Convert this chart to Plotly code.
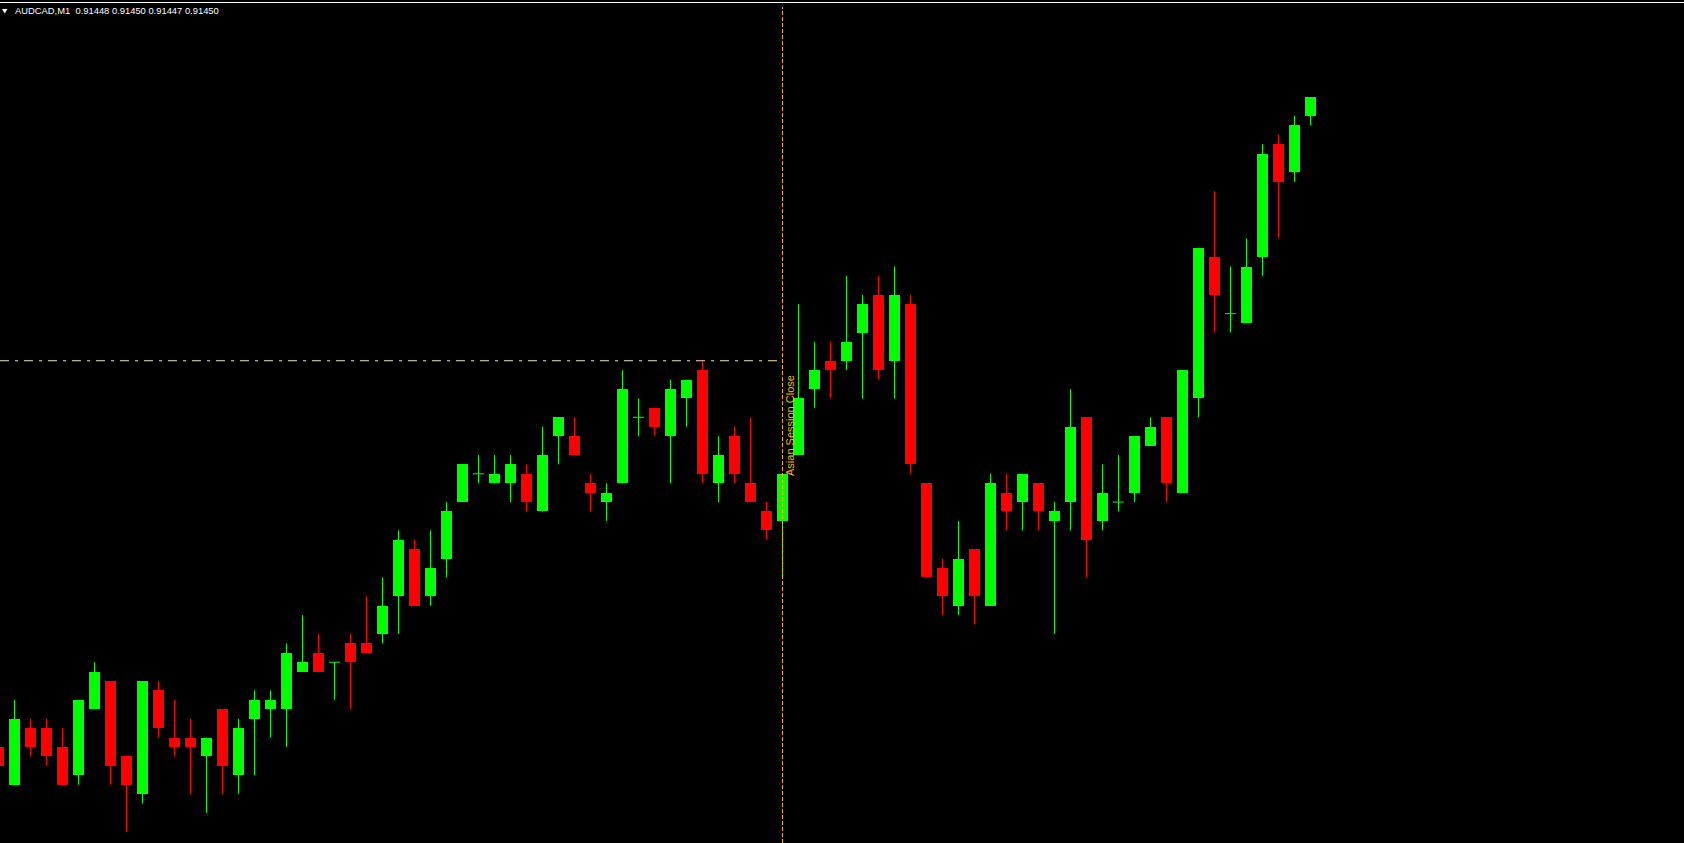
import plotly.graph_objects as go

# ---- data (AUDCAD M1, bar index -1 is the partially visible left bar) ----
bar_index = list(range(-1, 82))
open_ = [0.91381, 0.91377, 0.91383, 0.91383, 0.91381, 0.91378, 0.91385, 0.91388, 0.91380, 0.91376,
         0.91387, 0.91382, 0.91382, 0.91380, 0.91385, 0.91378, 0.91384, 0.91385, 0.91385, 0.91389,
         0.91391, 0.91390, 0.91392, 0.91392, 0.91393, 0.91397, 0.91402, 0.91397, 0.91401, 0.91407,
         0.91410, 0.91409, 0.91409, 0.91410, 0.91406, 0.91414, 0.91414, 0.91409, 0.91407, 0.91409,
         0.91416, 0.91417, 0.91414, 0.91418, 0.91421, 0.91409, 0.91414, 0.91409, 0.91406, 0.91405,
         0.91412, 0.91419, 0.91422, 0.91422, 0.91425, 0.91429, 0.91422, 0.91428, 0.91409, 0.91400,
         0.91396, 0.91402, 0.91396, 0.91408, 0.91407, 0.91409, 0.91405, 0.91407, 0.91416, 0.91405,
         0.91407, 0.91408, 0.91413, 0.91416, 0.91408, 0.91418, 0.91433, 0.91427, 0.91426, 0.91433,
         0.91445, 0.91442, 0.91448]
high = [0.91381, 0.91386, 0.91384, 0.91384, 0.91383, 0.91386, 0.91390, 0.91388, 0.91380, 0.91388,
        0.91388, 0.91386, 0.91384, 0.91382, 0.91385, 0.91384, 0.91387, 0.91387, 0.91392, 0.91395,
        0.91393, 0.91390, 0.91393, 0.91397, 0.91399, 0.91404, 0.91403, 0.91404, 0.91407, 0.91411,
        0.91412, 0.91412, 0.91412, 0.91411, 0.91415, 0.91416, 0.91416, 0.91410, 0.91409, 0.91421,
        0.91418, 0.91417, 0.91420, 0.91420, 0.91422, 0.91414, 0.91415, 0.91416, 0.91407, 0.91410,
        0.91428, 0.91424, 0.91424, 0.91431, 0.91429, 0.91431, 0.91432, 0.91429, 0.91409, 0.91401,
        0.91405, 0.91402, 0.91410, 0.91410, 0.91410, 0.91409, 0.91407, 0.91419, 0.91416, 0.91411,
        0.91412, 0.91414, 0.91416, 0.91416, 0.91421, 0.91434, 0.91440, 0.91432, 0.91435, 0.91445,
        0.91446, 0.91448, 0.91450]
low = [0.91379, 0.91377, 0.91380, 0.91379, 0.91377, 0.91377, 0.91385, 0.91377, 0.91372, 0.91375,
       0.91382, 0.91380, 0.91376, 0.91374, 0.91376, 0.91376, 0.91378, 0.91382, 0.91381, 0.91389,
       0.91389, 0.91386, 0.91385, 0.91391, 0.91392, 0.91393, 0.91396, 0.91396, 0.91399, 0.91407,
       0.91409, 0.91409, 0.91407, 0.91406, 0.91406, 0.91411, 0.91412, 0.91406, 0.91405, 0.91409,
       0.91414, 0.91414, 0.91409, 0.91415, 0.91409, 0.91407, 0.91409, 0.91407, 0.91403, 0.91399,
       0.91412, 0.91417, 0.91418, 0.91421, 0.91418, 0.91420, 0.91418, 0.91410, 0.91399, 0.91395,
       0.91395, 0.91394, 0.91396, 0.91404, 0.91404, 0.91404, 0.91393, 0.91404, 0.91399, 0.91404,
       0.91406, 0.91407, 0.91413, 0.91407, 0.91408, 0.91416, 0.91425, 0.91425, 0.91426, 0.91431,
       0.91435, 0.91441, 0.91447]
close = [0.91379, 0.91384, 0.91381, 0.91380, 0.91377, 0.91386, 0.91389, 0.91379, 0.91377, 0.91388,
         0.91383, 0.91381, 0.91381, 0.91382, 0.91379, 0.91383, 0.91386, 0.91386, 0.91391, 0.91390,
         0.91389, 0.91390, 0.91390, 0.91391, 0.91396, 0.91403, 0.91396, 0.91400, 0.91406, 0.91411,
         0.91410, 0.91410, 0.91411, 0.91407, 0.91412, 0.91416, 0.91412, 0.91408, 0.91408, 0.91419,
         0.91416, 0.91415, 0.91419, 0.91420, 0.91410, 0.91412, 0.91410, 0.91407, 0.91404, 0.91410,
         0.91418, 0.91421, 0.91421, 0.91424, 0.91428, 0.91421, 0.91429, 0.91411, 0.91399, 0.91397,
         0.91401, 0.91397, 0.91409, 0.91406, 0.91410, 0.91406, 0.91406, 0.91415, 0.91403, 0.91408,
         0.91407, 0.91414, 0.91415, 0.91409, 0.91421, 0.91434, 0.91429, 0.91427, 0.91432, 0.91444,
         0.91441, 0.91447, 0.91450]

session_close_index = 48
session_label = "Asian Session Close"
symbol = "AUDCAD,M1"

# ---- styling ----
W, H = 1684, 843
UP, DOWN = "#00FF00", "#FF0000"
BODY_W = 11 / 16
PX_PER_PIP = 9.42  # pixels per 0.00001
last_close = close[-1]
y_top = last_close + 97 / PX_PER_PIP * 1e-5
y_bot = last_close - (H - 97) / PX_PER_PIP * 1e-5
x_lo = -14.5 / 16
x_hi = (W - 14.5) / 16

colors = [UP if c >= o else DOWN for o, c in zip(open_, close)]

fig = go.Figure()

# wicks (and doji crosses)
for col in (UP, DOWN):
    xs, ys = [], []
    for k, o, h, l, c, cc in zip(bar_index, open_, high, low, close, colors):
        if cc != col:
            continue
        xs += [k, k, None]
        ys += [l, h, None]
        if abs(c - o) < 1e-9:
            xs += [k - BODY_W / 2, k + BODY_W / 2, None]
            ys += [o, o, None]
    fig.add_trace(go.Scatter(x=xs, y=ys, mode="lines", line=dict(color=col, width=1),
                             hoverinfo="skip", connectgaps=False))

# bodies
fig.add_trace(go.Bar(
    x=bar_index,
    y=[abs(c - o) for o, c in zip(open_, close)],
    base=[min(o, c) for o, c in zip(open_, close)],
    width=BODY_W,
    marker=dict(color=colors, line=dict(width=0)),
    hoverinfo="skip",
))

# Asian session high (dash-dot) up to the session close line
session_high = max(high[:bar_index.index(session_close_index)])
fig.add_trace(go.Scatter(
    x=[x_lo, session_close_index], y=[session_high, session_high], mode="lines",
    line=dict(color="#EEE8AA", width=1, dash="9px,6px,3px,6px"), hoverinfo="skip"))

# session close vertical line
fig.add_shape(type="line", xref="x", yref="paper", x0=session_close_index, x1=session_close_index,
              y0=0, y1=1 - 7 / H, line=dict(color="#FFB400", width=1, dash="4px,2px"))

# top border line
fig.add_shape(type="line", xref="paper", yref="paper", x0=0, x1=1, y0=1 - 2.5 / H, y1=1 - 2.5 / H,
              line=dict(color="#FFFFFF", width=1))

# header triangle
fig.add_shape(type="path", xref="paper", yref="paper",
              path=f"M {2/W} {1-9/H} L {7.5/W} {1-9/H} L {4.75/W} {1-13.5/H} Z",
              fillcolor="#FFFFFF", line=dict(width=0))

nb = "\u00a0"
title_text = f"{symbol}{nb}{nb}" + nb.join(f"{v:.5f}" for v in (open_[-1], high[-1], low[-1], close[-1]))
fig.add_annotation(text=title_text, xref="paper", yref="paper", x=13 / W, y=1 - 10.5 / H,
                   xanchor="left", yanchor="middle", showarrow=False,
                   font=dict(family="Liberation Sans", size=9.4, color="#FFFFFF"))

fig.add_annotation(text=session_label, xref="x", yref="paper", x=session_close_index,
                   xshift=7, y=1 - 425.5 / H, textangle=-90, showarrow=False,
                   xanchor="center", yanchor="middle",
                   font=dict(family="Liberation Sans", size=11, color="#FFB400"))

fig.update_layout(
    width=W, height=H, margin=dict(l=0, r=0, t=0, b=0),
    paper_bgcolor="#000000", plot_bgcolor="#000000",
    showlegend=False, bargap=0,
    xaxis=dict(visible=False, range=[x_lo, x_hi], fixedrange=True),
    yaxis=dict(visible=False, range=[y_bot, y_top], fixedrange=True),
)

fig.write_html("out.html", config={"displayModeBar": False},
               post_script="document.body.style.margin='0';document.body.style.background='#000';document.body.style.overflow='hidden';")
